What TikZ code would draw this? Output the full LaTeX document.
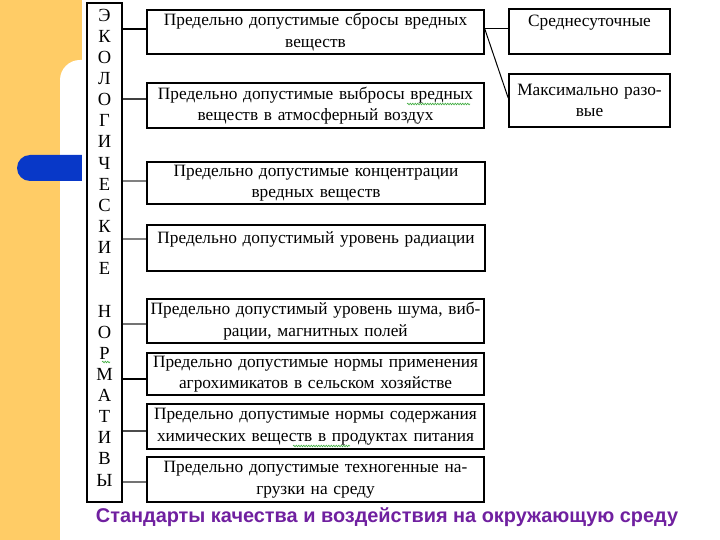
\documentclass[tikz,border=0pt]{standalone}
\usepackage{fontspec}
\setmainfont{Liberation Serif}
\newfontfamily\capfont{Liberation Sans}
\usetikzlibrary{decorations.pathmorphing}
\definecolor{bgorange}{RGB}{255,204,102}
\definecolor{pillblue}{RGB}{8,56,200}
\definecolor{cappurple}{RGB}{112,32,160}
\definecolor{spell}{RGB}{60,170,60}
\begin{document}
\begin{tikzpicture}[x=1pt,y=-1pt,
  box/.style={draw=black, line width=1.6pt, fill=white, inner sep=0pt, align=center,
    font=\fontsize{17.3}{21.5}\selectfont},
  conn/.style={line width=1.5pt},
  letter/.style={inner sep=0pt, font=\fontsize{18.5}{18.5}\selectfont},
  squig/.style={draw=spell, line width=0.6pt, decorate,
    decoration={snake, amplitude=0.8pt, segment length=2.5pt}}]
\useasboundingbox (0,0) rectangle (720,540);
% background
\fill[white] (0,0) rectangle (720,540);
\fill[bgorange] (0,0) rectangle (82,540);
\fill[white, rounded corners=20pt] (60,60) rectangle (140,600);
\fill[pillblue, rounded corners=13pt] (17,155) rectangle (110,181);
\fill[white] (82,0) rectangle (720,540);
% left tall box
\node[draw=black, line width=1.3pt, minimum width=35pt, minimum height=499pt, inner sep=0pt] (L) at (104.5,252.5) {};
\foreach \ch [count=\i] in {Э,К,О,Л,О,Г,И,Ч,Е,С,К,И,Е,{},Н,О,Р,М,А,Т,И,В,Ы}
  \node[letter] (v\i) at (104.5,{15+(\i-1)*21.14}) {\ch};
% boxes
\node[box, minimum width=337pt, minimum height=44pt, text width=337pt] (b1) at (315.5,32) {Предельно допустимые сбросы вредных\\веществ};
\node[box, minimum width=337pt, minimum height=45pt, text width=337pt] (b2) at (315.5,105.5) {Предельно допустимые выбросы вредных\\веществ в атмосферный воздух};
\node[box, minimum width=338pt, minimum height=42pt, text width=338pt] (b3) at (316,183) {Предельно допустимые концентрации\\вредных веществ};
\node[box, minimum width=338pt, minimum height=46pt, text width=338pt] (b4) at (316,248) {Предельно допустимый уровень радиации\\\mbox{}};
\node[box, minimum width=337pt, minimum height=44pt, text width=337pt] (b5) at (315.5,321) {Предельно допустимый уровень шума, виб-\\рации, магнитных полей};
\node[box, minimum width=337pt, minimum height=42pt, text width=337pt] (b6) at (315.5,374) {Предельно допустимые нормы применения\\агрохимикатов в сельском хозяйстве};
\node[box, minimum width=337pt, minimum height=45pt, text width=337pt] (b7) at (315.5,426.5) {Предельно допустимые нормы содержания\\химических веществ в продуктах питания};
\node[box, minimum width=337pt, minimum height=45pt, text width=337pt] (b8) at (315.5,479.5) {Предельно допустимые техногенные на-\\грузки на среду};
% right boxes
\node[box, minimum width=161pt, minimum height=45pt, text width=161pt] (s1) at (589.5,31.5) {Среднесуточные\\\mbox{}};
\node[box, minimum width=161pt, minimum height=53pt, text width=161pt] (s2) at (589.5,100.5) {Максимально разо-\\вые};
% connectors from the left box
\coordinate (c1) at ([yshift=3pt]b1.west);
\coordinate (c2) at ([yshift=6.5pt]b2.west);
\coordinate (c3) at ([yshift=2pt]b3.west);
\coordinate (c4) at ([yshift=9pt]b4.west);
\coordinate (c5) at ([yshift=-3pt]b5.west);
\coordinate (c6) at ([yshift=-5pt]b6.west);
\coordinate (c7) at ([yshift=-4.5pt]b7.west);
\coordinate (c8) at ([yshift=-2.5pt]b8.west);
\draw[conn, black] (c1 -| L.east) -- (c1);
\draw[conn, black!75] (c2 -| L.east) -- (c2);
\draw[conn, black!50] (c3 -| L.east) -- (c3);
\draw[conn, black!50] (c4 -| L.east) -- (c4);
\draw[conn, black!55] (c5 -| L.east) -- (c5);
\draw[conn, black] (c6 -| L.east) -- (c6);
\draw[conn, black!70] (c7 -| L.east) -- (c7);
\draw[conn, black!55] (c8 -| L.east) -- (c8);
% connectors to the right boxes
\coordinate (r0) at ([yshift=3pt]b1.east);
\coordinate (r2) at ([yshift=2.5pt]s2.west);
\draw[line width=1pt] (r0) -- (r0 -| s1.west);
\draw[line width=1pt] (r0) -- (r2);
% spell-check squiggles
\draw[squig] (407,104) -- (470,104);
\draw[squig] (293,446) -- (350,446);
\draw[squig] (102,362) -- (110,362);
% caption
\node[font=\capfont\bfseries\fontsize{19.9}{22}\selectfont, text=cappurple, inner sep=0pt] (cap) at (387,517) {Стандарты качества и воздействия на окружающую среду};
\end{tikzpicture}
\end{document}
